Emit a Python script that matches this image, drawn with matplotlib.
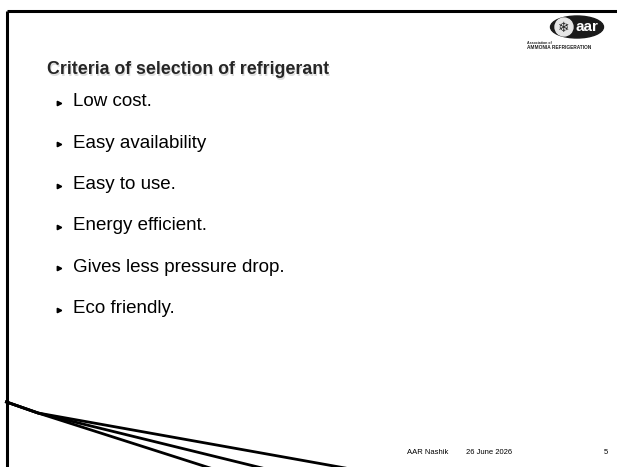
import matplotlib
matplotlib.use("Agg")
import matplotlib.pyplot as plt
from matplotlib.patches import Ellipse, Circle

# Contenido de la diapositiva
title = "Criteria of selection of refrigerant"
bullets = [
    "Low cost.",
    "Easy availability",
    "Easy to use.",
    "Energy efficient.",
    "Gives less pressure drop.",
    "Eco friendly.",
]
footer_place = "AAR Nashik"
footer_date = "26 June 2026"
page_number = "5"

W, H = 617, 467

fig = plt.figure(figsize=(W / 100, H / 100), dpi=100)
ax = fig.add_axes([0, 0, 1, 1])
ax.set_xlim(0, W)
ax.set_ylim(H, 0)
ax.axis("off")

# Marco superior e izquierdo
ax.plot([6.5, W], [11, 11], color="black", lw=2.2, solid_capstyle="butt")
ax.plot([6.5, 6.5], [11, H], color="black", lw=2.2, solid_capstyle="butt")

# Líneas decorativas abajo a la izquierda
for end_x in [210, 262, 345]:
    ax.plot([6.5, 38, end_x], [402, 413, H + 1], color="black", lw=2.0)

# Logo
ax.add_patch(Ellipse((577, 27), 53, 22, color="#1a1a1a"))
ax.add_patch(Circle((564, 27), 9, color="#e6e6e6"))
ax.text(564, 27.5, "\u2744", fontsize=10, ha="center", va="center",
        color="#222222", family="DejaVu Sans")
ax.text(587, 27, "aar", fontsize=11, ha="center", va="center",
        color="white", fontweight="bold", family="Liberation Sans")
ax.text(527, 42.5, "Association of", fontsize=2.6, ha="left", va="center",
        color="#222222", fontweight="bold", family="Liberation Sans")
ax.text(527, 47.5, "AMMONIA REFRIGERATION", fontsize=3.4, ha="left",
        va="center", color="#222222", fontweight="bold",
        family="Liberation Sans")

# Título con sombra suave
ax.text(48, 71, title, fontsize=12.8, ha="left", va="center",
        fontweight="bold", color="#dddddd", family="Liberation Sans")
ax.text(47, 70, title, fontsize=12.8, ha="left", va="center",
        fontweight="bold", color="#262626", family="Liberation Sans")

# Viñetas
y0 = 102
step = 41.3
for i, item in enumerate(bullets):
    y = y0 + i * step
    ax.plot(58.5, y + 1, marker=">", color="black", markersize=3.2)
    ax.text(73, y, item, fontsize=13.5, ha="left", va="center",
            color="black", family="Liberation Sans")

# Pie de página
ax.text(407, 453, footer_place, fontsize=5.5, ha="left", va="center",
        family="Liberation Sans")
ax.text(466, 453, footer_date, fontsize=5.5, ha="left", va="center",
        family="Liberation Sans")
ax.text(606, 453, page_number, fontsize=5.5, ha="center", va="center",
        family="Liberation Sans")

plt.savefig("out.png", dpi=100)
plt.close()
